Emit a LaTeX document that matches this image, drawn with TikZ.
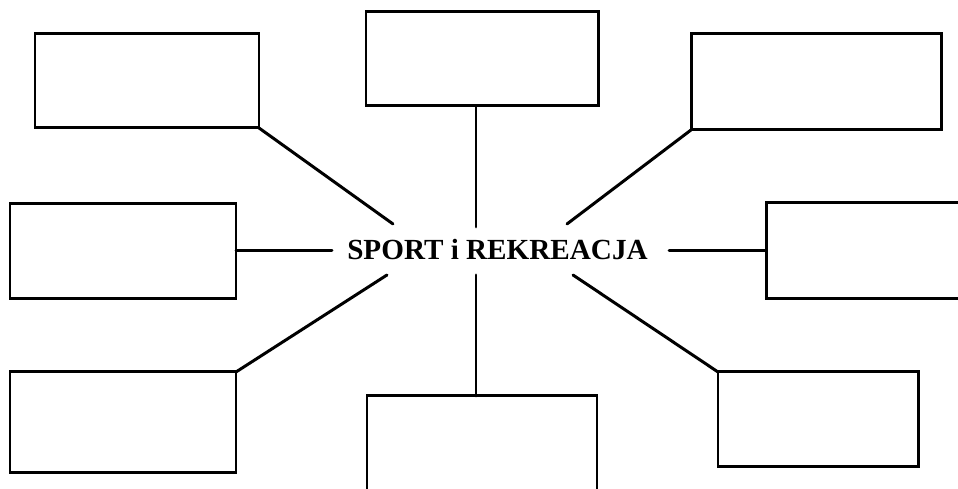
\documentclass[tikz,border=0pt]{standalone}
\usepackage{fontspec}
\setmainfont{Liberation Serif}
\begin{document}
\begin{tikzpicture}[line width=0.85pt, line cap=round, line join=miter,
  ramka/.style={draw, rectangle, inner sep=0pt, outer sep=0pt, line cap=butt},
  haslo/.style={font=\fontsize{8.3}{10}\selectfont\bfseries, inner sep=0pt}]
  \useasboundingbox (0,0) rectangle (9.58,4.89);
  \clip (0,0) rectangle (9.58,4.89);
  % hasło w środku
  \node[haslo, anchor=base] (haslo) at (4.975,2.29) {SPORT i REKREACJA};
  % ramki do wpisania, od góry
  \node[ramka, minimum width=2.24cm, minimum height=0.94cm] (lg) at (1.47,4.08) {};
  \node[ramka, minimum width=2.32cm, minimum height=0.94cm] (sg) at (4.82,4.30) {};
  \node[ramka, minimum width=2.50cm, minimum height=0.96cm] (pg) at (8.16,4.07) {};
  \node[ramka, minimum width=2.26cm, minimum height=0.95cm] (ls) at (1.23,2.38) {};
  \node[ramka, minimum width=2.40cm, minimum height=0.96cm] (ps) at (8.86,2.38) {};
  \node[ramka, minimum width=2.26cm, minimum height=1.01cm] (ld) at (1.23,0.665) {};
  \node[ramka, minimum width=2.30cm, minimum height=0.95cm] (sd) at (4.82,0.455) {};
  \node[ramka, minimum width=2.00cm, minimum height=0.95cm] (pd) at (8.18,0.695) {};
  % końce kresek przy haśle
  \coordinate (k-lg) at (3.93,2.65);
  \coordinate (k-sg) at (4.76,2.62);
  \coordinate (k-pg) at (5.67,2.65);
  \coordinate (k-ls) at (3.32,2.38);
  \coordinate (k-ps) at (6.69,2.38);
  \coordinate (k-ld) at (3.87,2.14);
  \coordinate (k-sd) at (4.76,2.14);
  \coordinate (k-pd) at (5.73,2.14);
  % kreski od ramek do hasła
  \draw (lg.south east) -- (k-lg);
  \draw (k-sg |- sg.south) -- (k-sg);
  \draw (pg.south west) -- (k-pg);
  \draw (ls.east) -- (k-ls);
  \draw (ps.west) -- (k-ps);
  \draw (ld.north east) -- (k-ld);
  \draw (k-sd |- sd.north) -- (k-sd);
  \draw (pd.north west) -- (k-pd);
\end{tikzpicture}
\end{document}
